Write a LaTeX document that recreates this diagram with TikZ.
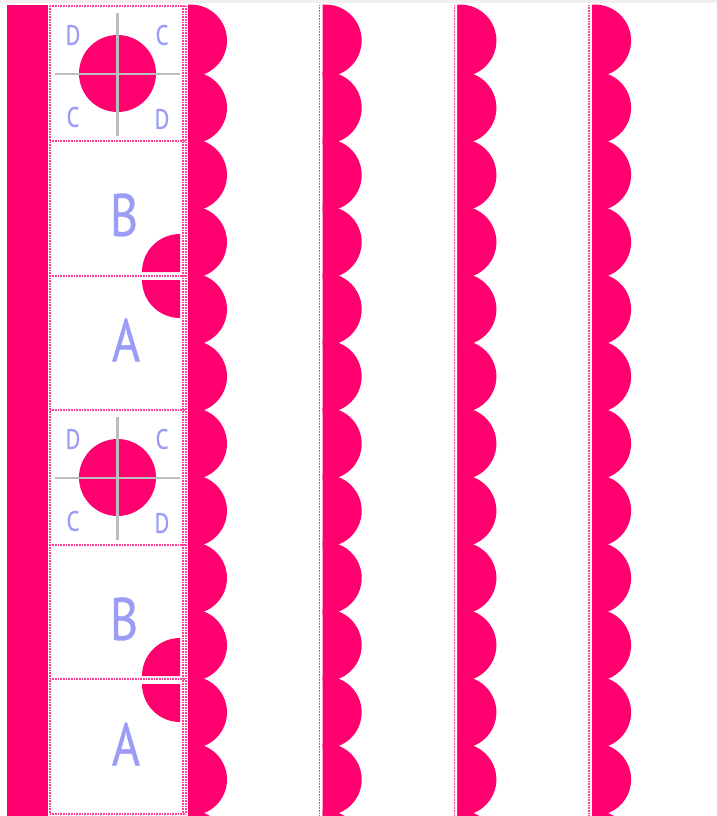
\documentclass[tikz,border=0pt]{standalone}
\usepackage{fontspec}
\newfontfamily\lblfont[FakeStretch=0.8,FakeBold=0.6]{PT Sans}
\usepackage{tikz}
\usetikzlibrary{positioning}
\definecolor{rose}{HTML}{FF006E}
\definecolor{peri}{HTML}{9A9CF5}
\definecolor{hair}{HTML}{BDBDBD}
\tikzset{
  guide/.style={draw=rose!75,line width=1.4pt,dash pattern=on 0.8pt off 0.8pt},
  cross/.style={draw=hair,line width=2.6pt},
  small/.style={text=peri,font=\lblfont\fontsize{28}{28}\selectfont,inner sep=0pt},
  big/.style={text=peri,font=\lblfont\fontsize{60}{60}\selectfont,inner sep=0pt},
}
\begin{document}
\begin{tikzpicture}[x=1pt,y=-1pt]
\useasboundingbox (0,0) rectangle (717,816);
\fill[gray!12] (0,0) rectangle (717,3);
% left bar
\fill[rose] (7,5) rectangle (48,816);
% scalloped strips
\foreach \sx in {188,322.7,457.4,592.1} {
  \begin{scope}
    \clip (\sx,5) rectangle (\sx+50,816);
    \fill[rose] (\sx,5) rectangle (\sx+3,816);
    \foreach \k in {0,...,12}
      \fill[rose] (\sx+3,{40.6+67.17*\k}) circle[radius=36];
  \end{scope}
}
\foreach \sx in {319.5,454.2,588.9}
  \draw[guide] (\sx,5) -- (\sx,816);
% panel column
\foreach \g/\n in {0/1,404/2} {
  % circle cell
  \fill[rose] (117.5,73.5+\g) circle[radius=38.5];
  \draw[cross] (117.5,13+\g) -- (117.5,136+\g);
  \draw[cross] (55,74+\g) -- (180,74+\g);
  \node[small] (d1\n) at (73,35+\g) {D};
  \node[small] (c1\n) at (162,35+\g) {C};
  \node[small] (c2\n) at (73,117+\g) {C};
  \node[small] (d2\n) at (162,119+\g) {D};
  % B and A cells
  \fill[rose] (180,272+\g) -- ++(-38,0) arc[start angle=180,end angle=270,radius=38] -- cycle;
  \fill[rose] (180,280+\g) -- ++(-38,0) arc[start angle=180,end angle=90,radius=38] -- cycle;
  \node[big] (b\n) at (124,215+\g) {B};
  \node[big] (a\n) at (126,340+\g) {A};
}
\foreach \cy in {6,141,276,410,545,679,814}
  \draw[guide] (50,\cy) -- (185,\cy);
\draw[guide] (50,6) -- (50,814);
\draw[guide] (183,6) -- (183,814);
\draw[guide] (186,6) -- (186,814);
\end{tikzpicture}
\end{document}
